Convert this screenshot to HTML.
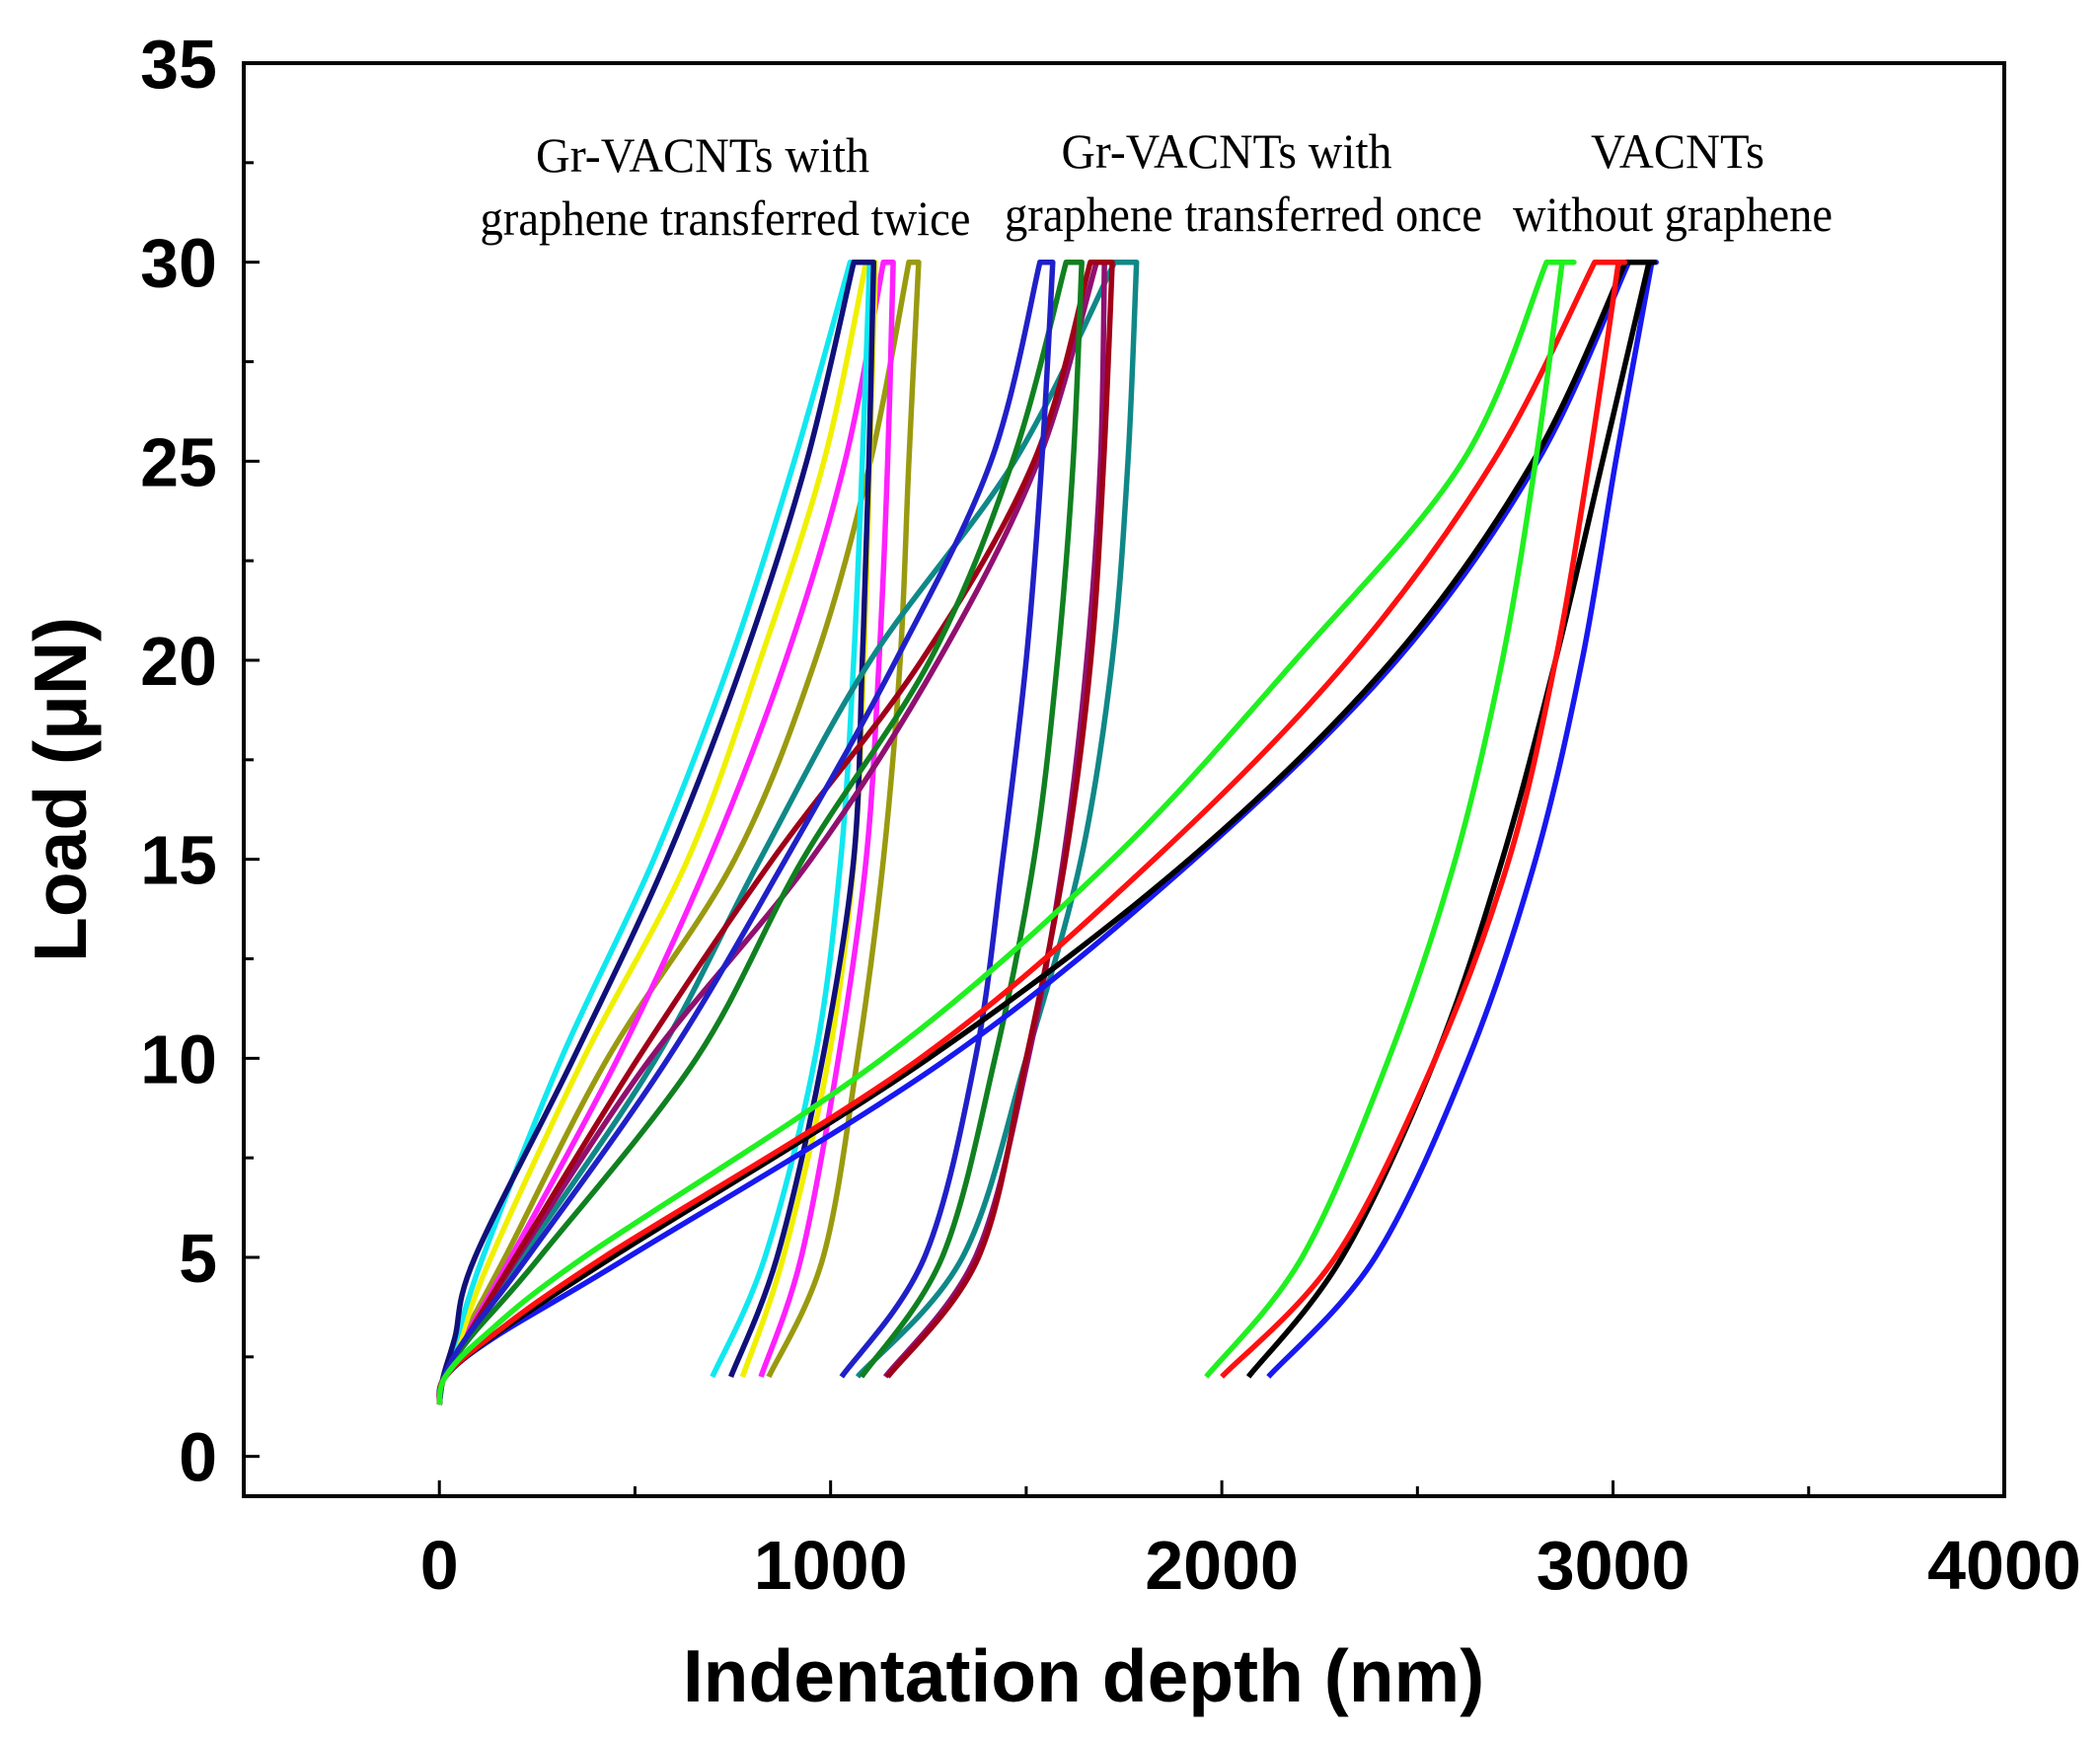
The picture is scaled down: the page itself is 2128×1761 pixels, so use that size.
<!DOCTYPE html>
<html><head><meta charset="utf-8"><style>
html,body{margin:0;padding:0;background:#fff;}
svg{display:block;}
.tk{font-family:"Liberation Sans",Arial,sans-serif;font-weight:bold;font-size:70px;fill:#000;}
.ttl{font-family:"Liberation Sans",Arial,sans-serif;font-weight:bold;font-size:75px;fill:#000;}
.ann{font-family:"Liberation Serif","Times New Roman",serif;font-size:50px;fill:#000;}
</style></head><body>
<svg id="chart" width="2128" height="1761" viewBox="0 0 2128 1761">
<g id="series"></g>
<g id="axes"></g>
<text class="ann" x="712" y="174" text-anchor="middle" textLength="338" lengthAdjust="spacingAndGlyphs">Gr-VACNTs with</text>
<text class="ann" x="735" y="238" text-anchor="middle" textLength="497" lengthAdjust="spacingAndGlyphs">graphene transferred twice</text>
<text class="ann" x="1243" y="170" text-anchor="middle" textLength="335" lengthAdjust="spacingAndGlyphs">Gr-VACNTs with</text>
<text class="ann" x="1260" y="234" text-anchor="middle" textLength="484" lengthAdjust="spacingAndGlyphs">graphene transferred once</text>
<text class="ann" x="1700" y="170" text-anchor="middle" textLength="176" lengthAdjust="spacingAndGlyphs">VACNTs</text>
<text class="ann" x="1695" y="234" text-anchor="middle" textLength="324" lengthAdjust="spacingAndGlyphs">without graphene</text>
<text class="ttl" x="1098" y="1724" text-anchor="middle">Indentation depth (nm)</text>
<text class="ttl" transform="translate(87,800) rotate(-90)" text-anchor="middle">Load (μN)</text>
</svg>
<script>
const xTicks=[0,1000,2000,3000,4000];
const xTickLabels=["0","1000","2000","3000","4000"];
const yTicks=[0,5,10,15,20,25,30,35];
const yTickLabels=["0","5","10","15","20","25","30","35"];
const loadLevels=[1.3,2,3,5,10,15,20,25,30];
const unloadLevels=[30,25,20,15,10,5,2];
const seriesNames=["twice-olive","twice-magenta","twice-yellow","twice-cyan","twice-navy","once-teal","once-purple","once-maroon","once-darkgreen","once-blue","none-blue","none-black","none-red","none-green"];
const seriesColors=["#9a9a10","#ff20ff","#f0f000","#10e8f0","#10107a","#108888","#901070","#a00018","#108020","#2020c8","#1818f0","#000000","#ff1010","#20f020"];
const loadX=[
[0,12,60,168,430,755,961,1102,1200],
[0,12,65,183,456,690,885,1037,1135],
[0,12,55,132,369,635,820,983,1091],
[0,10,45,111,312,548,744,907,1050],
[0,10,40,91,343,581,777,939,1059],
[0,12,70,210,554,820,1102,1470,1726],
[0,12,70,200,540,950,1276,1530,1680],
[0,12,70,194,508,852,1233,1520,1664],
[0,12,80,256,657,929,1254,1465,1602],
[0,12,70,225,585,885,1167,1410,1535],
[0,15,142,482,1300,1929,2447,2807,3040],
[0,15,135,441,1250,1917,2435,2796,3032],
[0,15,130,420,1229,1827,2323,2694,2953],
[0,15,111,369,1133,1720,2188,2616,2830]];
const holdX=[1225,1160,1115,1100,1110,1782,1700,1720,1642,1568,3110,3105,3030,2900];
const unloadX=[
[1225,1200,1178,1135,1069,981,842],
[1160,1146,1124,1091,1020,925,822],
[1115,1100,1085,1060,995,879,775],
[1100,1081,1059,1026,960,832,698],
[1110,1098,1081,1059,980,863,745],
[1782,1760,1720,1640,1500,1337,1069],
[1700,1690,1655,1595,1505,1370,1140],
[1720,1698,1665,1600,1500,1378,1146],
[1642,1620,1580,1520,1420,1285,1079],
[1568,1540,1500,1440,1370,1240,1028],
[3099,3007,2921,2802,2631,2392,2119],
[3092,2973,2853,2717,2546,2307,2068],
[3014,2939,2853,2734,2546,2290,2000],
[2870,2802,2717,2597,2427,2205,1960]];

const L=247,R=2031,T=64,B=1516,xmin=-500,xmax=4000,ymin=-1,ymax=35;
const sx=v=>L+(v-xmin)/(xmax-xmin)*(R-L);
const sy=v=>B-(v-ymin)/(ymax-ymin)*(B-T);
const NS="http://www.w3.org/2000/svg";
function smooth(pts){
  let d="M"+pts[0][0].toFixed(1)+","+pts[0][1].toFixed(1);
  for(let i=0;i<pts.length-1;i++){
    const p0=pts[Math.max(0,i-1)],p1=pts[i],p2=pts[i+1],p3=pts[Math.min(pts.length-1,i+2)];
    const c1=[p1[0]+(p2[0]-p0[0])/6,p1[1]+(p2[1]-p0[1])/6];
    const c2=[p2[0]-(p3[0]-p1[0])/6,p2[1]-(p3[1]-p1[1])/6];
    d+=" C"+c1[0].toFixed(1)+","+c1[1].toFixed(1)+" "+c2[0].toFixed(1)+","+c2[1].toFixed(1)+" "+p2[0].toFixed(1)+","+p2[1].toFixed(1);
  }
  return d;
}
const sg=document.getElementById("series");
for(let s=0;s<seriesNames.length;s++){
  const lp=loadX[s].map((x,i)=>[sx(x),sy(loadLevels[i])]);
  const up=unloadX[s].map((x,i)=>[sx(x),sy(unloadLevels[i])]);
  let d=smooth(lp)+" L"+sx(holdX[s]).toFixed(1)+","+sy(30).toFixed(1)+" "+smooth(up).replace(/^M/," L");
  const p=document.createElementNS(NS,"path");
  p.setAttribute("d",d);
  p.setAttribute("fill","none");
  p.setAttribute("stroke",seriesColors[s]);
  p.setAttribute("stroke-width","5.5");
  p.setAttribute("stroke-linejoin","round");
  
  
  sg.appendChild(p);
}
const ag=document.getElementById("axes");
function el(tag,attrs){const e=document.createElementNS(NS,tag);for(const k in attrs)e.setAttribute(k,attrs[k]);ag.appendChild(e);return e;}
const frame=el("rect",{x:L,y:T,width:R-L,height:B-T,fill:"none",stroke:"#000","stroke-width":4});


for(let v=-500;v<=4000;v+=500){
  const len=(v%1000===0)?16:10;
  const t=el("line",{x1:sx(v),x2:sx(v),y1:B,y2:B-len,stroke:"#000","stroke-width":3});
  
  
}
xTicks.forEach((v,i)=>{
  const t=el("text",{x:sx(v),y:1610,"text-anchor":"middle",class:"tk"});
  t.textContent=xTickLabels[i];
  
  
});
for(let v=0;v<=35;v+=2.5){
  const len=(v%5===0)?16:10;
  const t=el("line",{x1:L,x2:L+len,y1:sy(v),y2:sy(v),stroke:"#000","stroke-width":3});
  
  
}
yTicks.forEach((v,i)=>{
  const t=el("text",{x:220,y:sy(v)+25,"text-anchor":"end",class:"tk"});
  t.textContent=yTickLabels[i];
  
  
});
</script>
</body></html>
